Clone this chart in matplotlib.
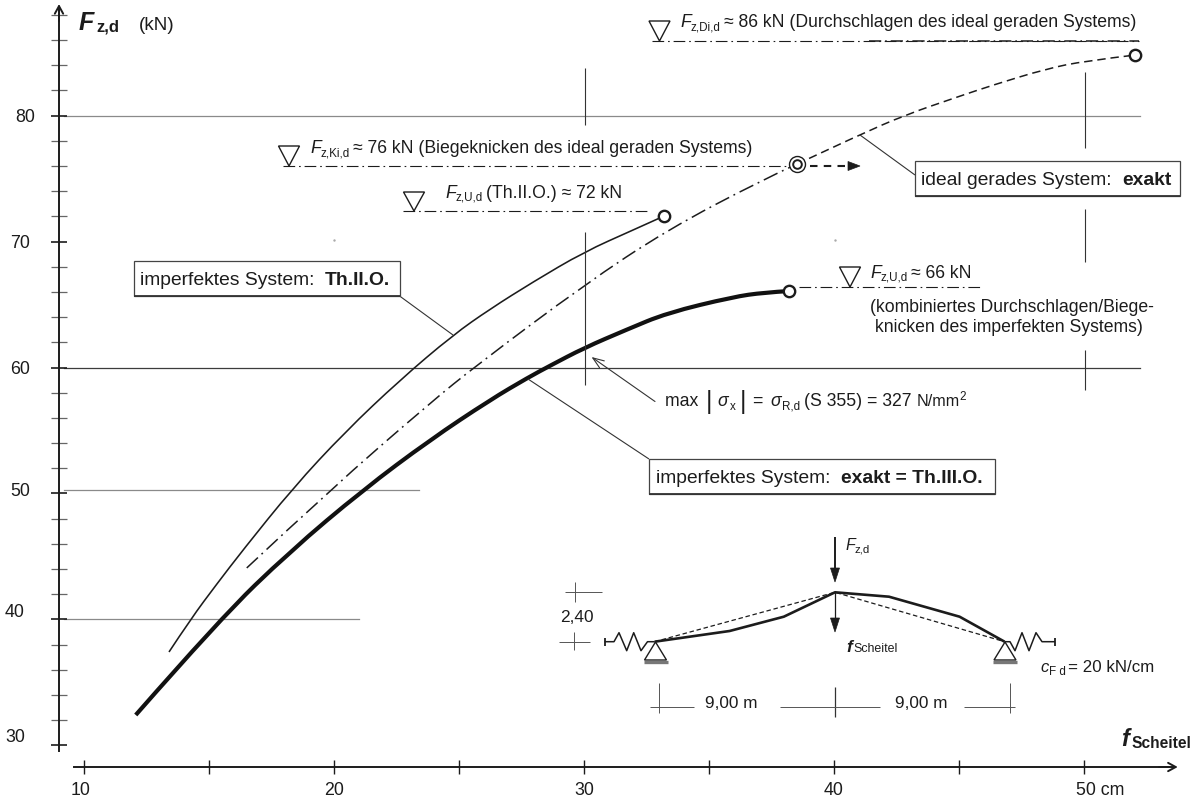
import matplotlib
matplotlib.use("Agg")
import matplotlib.pyplot as plt
from matplotlib.patches import Polygon, Rectangle, PathPatch
from matplotlib.path import Path
from matplotlib.transforms import Affine2D

plt.rcParams['font.family'] = ['Liberation Sans', 'DejaVu Sans']

# ---------- data ----------
th2_x = [13.4, 14.27, 15.31, 16.36, 18.36, 20.44, 22.64, 24.76, 26.24, 27.96, 30.0, 31.96, 33.2]
th2_y = [37.42, 40.04, 42.81, 45.52, 50.44, 54.88, 59.01, 62.58, 64.64, 66.79, 69.17, 70.91, 72.02]
th3_x = [12.07, 15.44, 18.24, 21.16, 23.84, 26.24, 27.76, 28.64, 30.0, 31.7, 33.32, 35.96, 37.2, 38.2]
th3_y = [32.42, 40.04, 45.4, 50.28, 54.25, 57.42, 59.2, 60.14, 61.55, 63.0, 64.33, 65.6, 65.95, 66.07]
ideal_x = [16.51, 19.84, 23.84, 25.72, 30.0, 33.32, 37.12, 38.52]
ideal_y = [44.09, 50.28, 57.18, 60.2, 66.55, 70.91, 74.88, 76.15]
exact_x = [38.52, 41.0, 42.84, 44.96, 46.36, 48.48, 50.04, 52.04]
exact_y = [76.15, 78.45, 80.04, 81.49, 82.42, 83.7, 84.33, 84.8]
level_y = [85.91, 75.99, 72.4, 66.41]
level_x0 = [32.72, 17.96, 22.76, 38.6]
level_x1 = [52.2, 38.24, 32.64, 45.88]
grid_y = [80, 60, 50.28, 40]
grid_x1 = [52.24, 52.24, 23.4, 21.0]
x_major = [10, 20, 30, 40, 50]
x_labels = ['10', '20', '30', '40', '50 cm']
x_minor = [15, 25, 35, 45]
y_major = [30, 40, 50, 60, 70, 80]
y_labels = ['30', '40', '50', '60', '70', '80']
y_minor = [v for v in range(32, 89, 2) if v % 10]

INK = '#1c1c1c'
fig = plt.figure(figsize=(11.94, 7.98), dpi=100)
ax = fig.add_axes([0, 0, 1, 1])
ax.set_xlim(6.64, 54.4)
ax.set_ylim(25.83, 89.17)
ax.patch.set_visible(False)

for s in ('top', 'right'):
    ax.spines[s].set_visible(False)
ax.spines['left'].set_position(('data', 9.0))
ax.spines['bottom'].set_position(('data', 28.29))
ax.spines['left'].set_bounds(29.6, 88.4)
ax.spines['bottom'].set_bounds(9.6, 53.4)
for s in ('left', 'bottom'):
    ax.spines[s].set_linewidth(1.4)
    ax.spines[s].set_color(INK)

ax.set_xticks(x_major, x_labels)
ax.set_xticks(x_minor, minor=True)
ax.set_yticks(y_major, y_labels)
ax.set_yticks(y_minor, minor=True)
ax.tick_params(axis='x', which='both', direction='inout', length=10, width=1.0, color=INK,
               labelsize=12.8, labelcolor=INK, pad=6)
ax.tick_params(axis='y', which='major', direction='inout', length=11, width=1.2, color=INK,
               labelsize=12.8, labelcolor=INK, pad=11.9)
ax.tick_params(axis='y', which='minor', direction='inout', length=11, width=0.9, color='#666666')

y_off = {'80': (0, 0), '70': (-5, 0), '60': (-5, 0), '50': (-5, 3.5), '40': (-10, 8.5), '30': (-10, 9.5)}
for lbl in ax.get_yticklabels():
    dx, dy = y_off[lbl.get_text()]
    lbl.set_transform(lbl.get_transform() + Affine2D().translate(dx, dy))
x_off = {'10': -3, '50 cm': 16}
for lbl in ax.get_xticklabels():
    dx = x_off.get(lbl.get_text(), 0)
    lbl.set_transform(lbl.get_transform() + Affine2D().translate(dx, 0))

ax.annotate('', xy=(9.0, 88.85), xytext=(9.0, 87.5),
            arrowprops=dict(arrowstyle='->,head_length=0.55,head_width=0.3', lw=1.4, color=INK, shrinkA=0, shrinkB=0))
ax.annotate('', xy=(53.75, 28.29), xytext=(53.0, 28.29),
            arrowprops=dict(arrowstyle='->,head_length=0.55,head_width=0.3', lw=1.4, color=INK, shrinkA=0, shrinkB=0))

for yy, x1 in zip(grid_y, grid_x1):
    col = '#3c3c3c' if yy == 60 else '#8a8a8a'
    ax.plot([9.2, x1], [yy, yy], color=col, lw=0.9, zorder=1)


def curve(xs, ys, **kw):
    """Smooth pen stroke guided by the read points (quadratic segments)."""
    pts = list(zip(xs, ys))
    verts = [pts[0]]
    codes = [Path.MOVETO]
    for i in range(1, len(pts) - 1):
        mid = ((pts[i][0] + pts[i + 1][0]) / 2, (pts[i][1] + pts[i + 1][1]) / 2)
        if i == len(pts) - 2:
            mid = pts[i + 1]
        verts += [pts[i], mid]
        codes += [Path.CURVE3, Path.CURVE3]
    ax.add_patch(PathPatch(Path(verts, codes), fill=False, **kw))


curve(th2_x, th2_y, ec=INK, lw=1.15, zorder=3)
curve(th3_x, th3_y, ec='#111111', lw=3.0, zorder=3, capstyle='butt')
curve(ideal_x, ideal_y, ec=INK, lw=1.1, ls=(0, (10, 3.2, 1.2, 3.3)), zorder=3)
curve(exact_x, exact_y, ec=INK, lw=1.1, ls=(0, (5.5, 3.2)), zorder=3)

dashdot = (0, (10.5, 3.5, 1.5, 3.5))
for yy, a, b in zip(level_y, level_x0, level_x1):
    ax.plot([a, b], [yy, yy], color=INK, lw=0.8, ls=dashdot, zorder=2)
ax.plot([41.4, level_x1[0]], [level_y[0]] * 2, color=INK, lw=1.1, ls=(0, (8, 2.6, 1, 2.6)), zorder=2)

ends_x = [th2_x[-1], th3_x[-1], exact_x[-1]]
ends_y = [th2_y[-1], th3_y[-1], exact_y[-1]]
ax.plot(ends_x, ends_y, ls='none', marker='o', ms=8.2, mfc='white', mec=INK, mew=1.7, zorder=5)
ax.plot([exact_x[0]], [exact_y[0]], ls='none', marker='o', ms=11.5, mfc='white', mec=INK, mew=1.0, zorder=5)
ax.plot([exact_x[0]], [exact_y[0]], ls='none', marker='o', ms=6.2, mfc='white', mec=INK, mew=1.4, zorder=6)

# ---------- overlay in pixel coordinates for the annotations ----------
ov = fig.add_axes([0, 0, 1, 1], zorder=5)
ov.set_xlim(0, 1194)
ov.set_ylim(798, 0)
ov.axis('off')
ov.patch.set_visible(False)
rend = fig.canvas.get_renderer()


def seg(xs, ys, lw=0.8, c='#333333', **kw):
    ov.plot(xs, ys, color=c, lw=lw, solid_capstyle='butt', **kw)


def rich(x, y, pieces, zorder=6):
    """pieces: (text, size, style, weight, dy, gap_after)"""
    for txt, size, style, weight, dy, gap in pieces:
        t = ov.text(x, y + dy, txt, fontsize=size, fontstyle=style, fontweight=weight,
                    ha='left', va='baseline', color=INK, zorder=zorder)
        x += t.get_window_extent(rend).width + gap


FS = 12.7
SUB = 8.4


def N(txt, gap=0, size=FS):
    return (txt, size, 'normal', 'normal', 0, gap)


def I(txt, gap=0, size=FS):
    return (txt, size, 'italic', 'normal', 0, gap)


def S(txt, gap=3, size=SUB, dy=3):
    return (txt, size, 'normal', 'normal', dy, gap)


def B(txt, gap=0, size=FS):
    return (txt, size, 'normal', 'bold', 0, gap)


def tri(xc, ytop, yapex, half, lw=1.0):
    ov.add_patch(Polygon([(xc - half, ytop), (xc + half, ytop), (xc, yapex)], closed=True,
                         fill=False, ec=INK, lw=lw))


# axis titles
rich(79, 29.5, [('F', 18, 'italic', 'bold', 0, 2), ('z,d', 12, 'normal', 'bold', 2.5, 0)])
rich(139, 29.5, [N('(kN)', size=13.6)])
rich(1121, 746.5, [('f', 17, 'italic', 'bold', 0, 3), ('Scheitel', 11.2, 'normal', 'bold', 1.5, 0)])

# vertical cross lines
seg([585, 585], [68, 125])
seg([585, 585], [232, 385])
seg([1085, 1085], [72, 148])
seg([1085, 1085], [209, 262])
seg([1085, 1085], [350, 390])
ov.plot([334, 835], [240, 240], ls='none', marker='s', ms=0.7, color='#aaaaaa')

# level labels
tri(659.5, 21, 41, 10.5)
rich(680, 27, [I('F'), S('z,Di,d'), N('≈ 86 kN (Durchschlagen des ideal geraden Systems)')])
tri(289, 146, 166, 10.5)
rich(310, 153, [I('F'), S('z,Ki,d'), N('≈ 76 kN (Biegeknicken des ideal geraden Systems)')])
tri(414, 192, 211, 10.5)
rich(445, 198, [I('F'), S('z,U,d', gap=3), N('(Th.II.O.) ≈ 72 kN')])
tri(850, 267, 287, 10.5)
rich(870, 278, [I('F'), S('z,U,d'), N('≈ 66 kN')])
rich(870, 312, [N('(kombiniertes Durchschlagen/Biege-')])
rich(875, 332, [N('knicken des imperfekten Systems)')])

# dashed arrow after the buckling point
seg([810, 848], [166, 166], lw=1.5, c=INK, ls=(0, (3.6, 3)))
ov.add_patch(Polygon([(848, 161.5), (860, 166), (848, 170.5)], closed=True, fc=INK, ec=INK, lw=0.5))

# boxes with leaders
seg([399.6, 453], [296, 335])
seg([649, 528], [459, 379])
seg([915, 860], [175, 135])
for (x0, x1, y0, y1) in [(133.6, 399.6, 260.7, 296), (649, 995, 459, 494), (915, 1180, 160.7, 195.7)]:
    ov.add_patch(Rectangle((x0, y0), x1 - x0, y1 - y0, fc='white', ec='#444444', lw=0.9, zorder=4))
    seg([x0, x1], [y1, y1], lw=1.3, zorder=4)
BX = 13.9
rich(139.6, 285, [N('imperfektes System:  ', size=BX), B('Th.II.O.', size=BX)])
rich(656, 483, [N('imperfektes System:  ', size=BX), B('exakt = Th.III.O.', size=BX)])
rich(921, 185, [N('ideal gerades System:  ', size=BX), B('exakt', size=BX)])

# stress annotation
ov.annotate('', xy=(591.5, 357), xytext=(655, 401.5),
            arrowprops=dict(arrowstyle='->,head_length=0.8,head_width=0.3', lw=0.8, color='#333333', shrinkA=0, shrinkB=0))
rich(665, 406.5, [N('max ', gap=3), ('|', 18, 'normal', 'normal', 2, 5), I('σ', gap=1), S('x', gap=4),
                  ('|', 18, 'normal', 'normal', 2, 7), N('= ', gap=2), I('σ', gap=1), S('R,d', gap=4),
                  N('(S 355) = 327 ', gap=0), N('N/mm', size=11.6), ('2', 8.4, 'normal', 'normal', -6.5, 0)])

# ---------- system sketch ----------
seg([835, 835], [537, 572], lw=1.4, c=INK)
ov.add_patch(Polygon([(830.5, 568), (839.5, 568), (835, 582)], closed=True, fc=INK, ec=INK, lw=0.5))
seg([835, 835], [592, 622], lw=0.9, c=INK)
ov.add_patch(Polygon([(830.5, 618), (839.5, 618), (835, 632)], closed=True, fc=INK, ec=INK, lw=0.5))
rich(845, 550, [I('F', size=11.5), S('z,d', size=8.2, dy=2.5)])
rich(846, 652, [('f', 12.5, 'italic', 'bold', 0, 2), ('Scheitel', 8.9, 'normal', 'normal', 0, 0)])

seg([654.6, 835, 1004.6], [641.7, 592.3, 641.7], lw=0.9, c=INK, ls=(0, (3.6, 2.2)))
seg([654.6, 729.6, 783.8, 835, 889, 959.6, 1004.6],
    [641.7, 631, 616.7, 592.3, 596.7, 616.7, 641.7], lw=1.9, c=INK)

for xc in (655.5, 1005):
    tri(xc, 660, 642, 11)
    seg([xc - 12, xc + 12], [662, 662], lw=2.4, c='#777777')

seg([604.6, 614, 619, 626.7, 633.7, 641, 647.5, 654.6],
    [641.7, 641.7, 632.7, 650.7, 632.7, 650.7, 641.7, 641.7], lw=1.1, c=INK)
seg([604.6, 604.6], [637.5, 646], lw=1.3, c=INK)
seg([1005, 1010, 1015, 1022, 1029, 1036, 1042, 1055],
    [641.7, 641.7, 650.7, 632.7, 650.7, 632.7, 641.7, 641.7], lw=1.1, c=INK)
seg([1055, 1055], [637.5, 646], lw=1.3, c=INK)
rich(1040, 672, [('c', 12, 'italic', 'normal', 0, 1), S('F d', size=8.4, dy=3, gap=2), N('= 20 kN/cm', size=12.2)])

seg([565, 602], [591.7, 591.7], lw=0.7, c='#555555')
seg([575, 575], [582, 602], lw=0.7, c='#555555')
seg([559, 590], [641.7, 641.7], lw=0.7, c='#555555')
seg([574, 574], [632, 650], lw=0.7, c='#555555')
ov.text(577, 622, '2,40', fontsize=12.4, ha='center', va='baseline', color=INK)

seg([658.7, 658.7], [683, 713], lw=0.7, c='#555555')
seg([650, 694], [707, 707], lw=0.7, c='#555555')
seg([835, 835], [687, 717], lw=0.9, c='#333333')
seg([779.6, 879.6], [707, 707], lw=0.7, c='#555555')
seg([1010, 1010], [683, 713], lw=0.7, c='#555555')
seg([964, 1015], [707, 707], lw=0.7, c='#555555')
ov.text(731.7, 708, '9,00 m', fontsize=12.4, ha='center', va='baseline', color=INK)
ov.text(921, 708, '9,00 m', fontsize=12.4, ha='center', va='baseline', color=INK)

fig.savefig('out.png', dpi=100)
